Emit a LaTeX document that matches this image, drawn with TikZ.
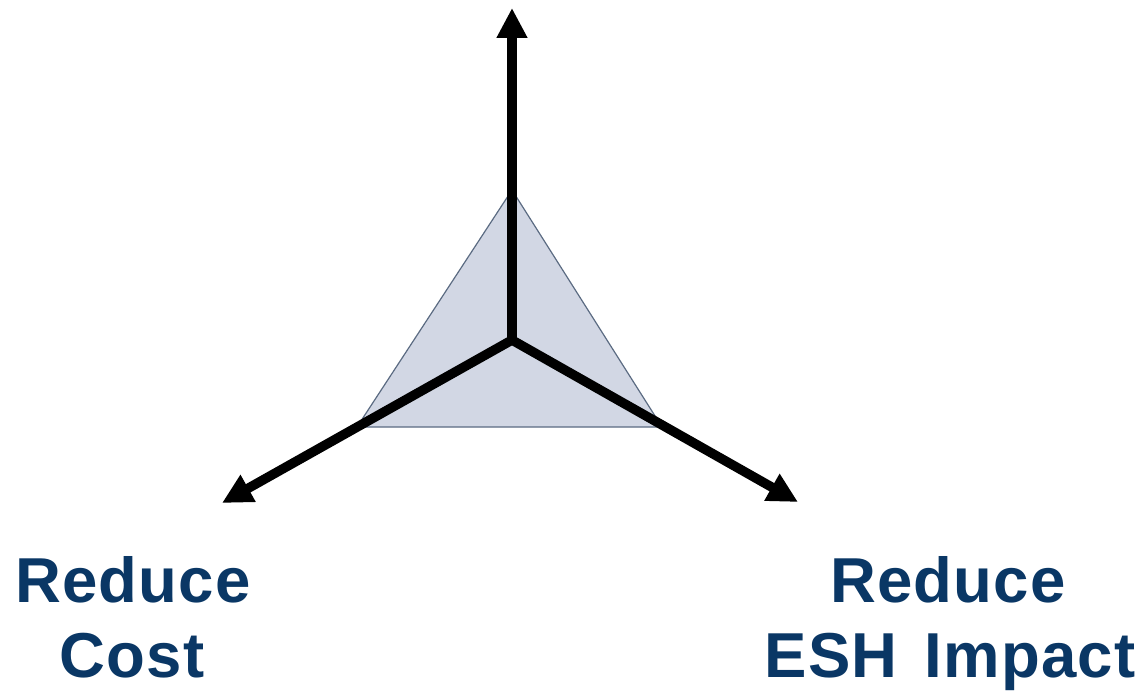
\documentclass[tikz,border=0pt]{standalone}
\usepackage{fontspec}
\setmainfont{Liberation Sans}
\newfontfamily\labelfont[LetterSpace=2.0]{Liberation Sans}
\usetikzlibrary{arrows.meta}
\definecolor{labelblue}{HTML}{0A3765}
\definecolor{trifill}{HTML}{D2D7E4}
\definecolor{triedge}{HTML}{5B6B82}
\begin{document}
\begin{tikzpicture}[x=1pt,y=-1pt,
  axis/.style={line width=9.5pt, line cap=round, -{Triangle[length=30pt,width=29pt]}},
  lbl/.style={font=\labelfont\fontsize{63.5}{75}\selectfont\bfseries, text=labelblue, inner sep=0pt, anchor=base}]
\useasboundingbox (0,0) rectangle (1141,693);
\coordinate (c) at (512,340);
\coordinate (tv) at (512,190);
\coordinate (lv) at (357,427);
\coordinate (rv) at (662,427);
\coordinate (tt) at (512,8);
\coordinate (lt) at (222,503);
\coordinate (rt) at (798,502);
\filldraw[fill=trifill, draw=triedge, line width=1.2pt, line join=miter] (tv) -- (lv) -- (rv) -- cycle;
\draw[axis] (c) -- (tt);
\draw[axis] (c) -- (lt);
\draw[axis] (c) -- (rt);
\node[lbl] (l1) at (133,602) {Reduce};
\node[lbl] (l2) at (132,677) {Cost};
\node[lbl] (r1) at (948,602) {Reduce};
\node[lbl] (r2) at (950,677) {ESH\ \hspace{8pt}Impact};
\end{tikzpicture}
\end{document}
